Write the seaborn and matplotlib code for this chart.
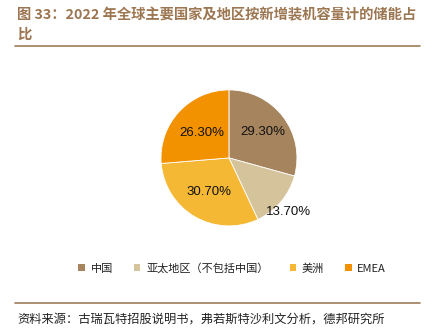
import matplotlib
matplotlib.use("Agg")
import matplotlib.pyplot as plt
import seaborn as sns
import numpy as np
from matplotlib.patches import Patch
from matplotlib.lines import Line2D

sns.set_theme(style="white")
plt.rcParams['font.family'] = ['Noto Sans CJK SC', 'DejaVu Sans']

categories = ["中国", "亚太地区（不包括中国）", "美洲", "EMEA"]
values = [29.30, 13.70, 30.70, 26.30]
colors = ["#A6845E", "#D5C39B", "#F4B835", "#F39200"]
label_r = [0.62, 1.15, 0.58, 0.55]

fig = plt.figure(figsize=(4.26, 3.36), dpi=100)
ax = fig.add_axes([0.338, 0.277, 0.399, 0.506])
wedges, _ = ax.pie(values, colors=colors, startangle=90, counterclock=False,
                   wedgeprops=dict(edgecolor="white", linewidth=0.6))
ax.set_aspect("equal")
for w, v, r in zip(wedges, values, label_r):
    ang = np.deg2rad((w.theta1 + w.theta2) / 2)
    dy = -0.06 if r > 1 else 0
    ax.text(r * np.cos(ang), r * np.sin(ang) + dy, f"{v:.2f}%", ha="center", va="center",
            fontsize=9.5, family=["Liberation Sans", "DejaVu Sans"], color="#111111")

# Title
title_color = "#9C7651"
fig.text(0.04, 0.955, "图 33：2022 年全球主要国家及地区按新增装机容量计的储能占", fontsize=10.3,
         fontweight="bold", color=title_color, ha="left", va="center")
fig.text(0.04, 0.895, "比", fontsize=10.3, fontweight="bold", color=title_color, ha="left", va="center")
fig.add_artist(Line2D([0.035, 0.985], [0.862, 0.862], color="#A07D5A", linewidth=1.2))

# Legend
handles = [Patch(facecolor=c, edgecolor="none") for c in colors]
leg = fig.legend(handles, categories, loc="center", bbox_to_anchor=(0.545, 0.202), ncol=4,
                 frameon=False, fontsize=8, handlelength=0.6, handleheight=0.6,
                 handletextpad=0.5, columnspacing=1.9)
for t in leg.get_texts():
    t.set_color("#222222")

# Footer
fig.add_artist(Line2D([0.035, 0.985], [0.098, 0.098], color="#A07D5A", linewidth=1.2))
fig.text(0.04, 0.05, "资料来源：古瑞瓦特招股说明书，弗若斯特沙利文分析，德邦研究所", fontsize=8.8,
         color="#222222", ha="left", va="center")

fig.savefig("out.png", dpi=100)
